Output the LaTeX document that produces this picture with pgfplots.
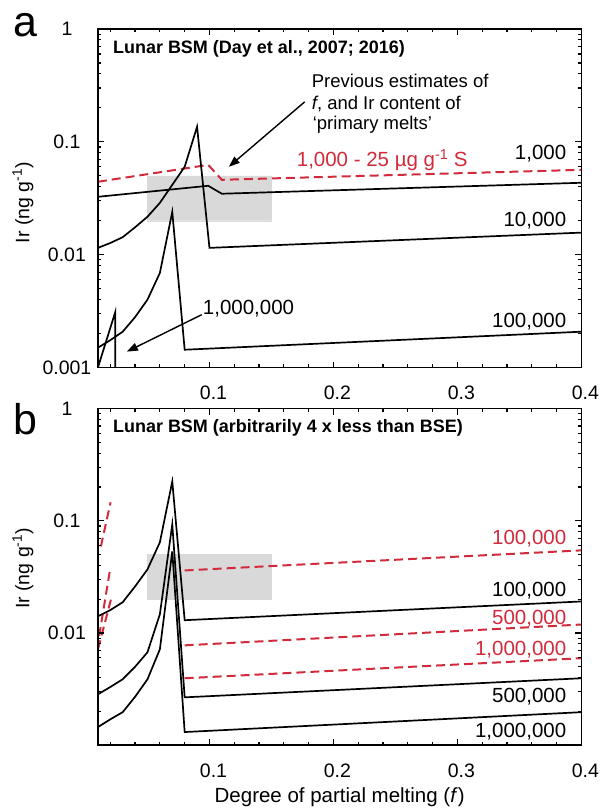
\documentclass[border=0pt]{standalone}
\usepackage{fontspec}
\setmainfont{Liberation Sans}
\usepackage{pgfplots}
\pgfplotsset{compat=1.18}
\usetikzlibrary{arrows.meta}
\definecolor{ired}{HTML}{D12B3B}
\definecolor{boxgray}{HTML}{D9D9D9}

\tikzset{
  blk/.style={black, line width=1.7bp},
  rdash/.style={ired, line width=2bp, dash pattern=on 9bp off 5bp},
  gbox/.style={draw=boxgray, fill=boxgray, line width=0.2bp},
}
\pgfplotsset{
  panel/.style={
    scale only axis, width=484bp,
    xmin=0.01, xmax=0.4, ymin=0.001, ymax=1,
    xtick={0.1,0.2,0.3,0.4}, xticklabels={0.1,0.2,0.3,0.4},
    minor xtick={0.02,0.04,0.06,0.08,0.12,0.14,0.16,0.18,0.22,0.24,0.26,0.28,0.32,0.34,0.36,0.38},
    ytick={0.001,0.01,0.1,1},
    minor ytick={0.002,0.003,0.004,0.005,0.006,0.007,0.008,0.009,
                 0.02,0.03,0.04,0.05,0.06,0.07,0.08,0.09,
                 0.2,0.3,0.4,0.5,0.6,0.7,0.8,0.9},
    axis line style={line width=1.5bp},
    tick style={line width=1.2bp},
    ticklabel style={font=\fontsize{19.5bp}{22bp}\selectfont},
    xticklabel style={yshift=-15bp, xshift=4bp},
    yticklabel style={anchor=center, xshift=-31bp},
  },
}

\begin{document}
\begin{tikzpicture}

% ---- panel a (south west corner at the origin)
\begin{axis}[ymode=log, panel, height=339bp, yticklabels={0.001,0.01,0.1,1}]
\addplot[gbox] coordinates {(0.05,0.02) (0.15,0.02) (0.15,0.05) (0.05,0.05) (0.05,0.02)};
% 1,000 - 25 ug/g S
\addplot[rdash] coordinates {(0.01,0.0443) (0.099,0.0625) (0.11,0.0461) (0.4,0.0565)};
% 1,000
\addplot[blk] coordinates {(0.01,0.0326) (0.099,0.0408) (0.11,0.0347) (0.4,0.0434)};
% 10,000
\addplot[blk] coordinates {(0.01,0.0115) (0.02,0.0127) (0.03,0.0143) (0.04,0.0175)
  (0.05,0.0217) (0.06,0.0288) (0.07,0.0416) (0.08,0.0601) (0.09,0.136) (0.1,0.0115) (0.4,0.0157)};
% 100,000
\addplot[blk] coordinates {(0.01,0.0015) (0.02,0.00175) (0.03,0.00208) (0.04,0.0028)
  (0.05,0.0040) (0.06,0.0069) (0.07,0.024) (0.08,0.00144) (0.4,0.00208)};
% 1,000,000
\addplot[blk] coordinates {(0.01,0.001) (0.024,0.0031) (0.024,0.0008)};
\end{axis}

% ---- panel b
\begin{axis}[ymode=log, panel, height=337bp, at={(0bp,-378bp)}, yticklabels={,0.01,0.1,1}]
\addplot[gbox] coordinates {(0.05,0.02) (0.15,0.02) (0.15,0.05) (0.05,0.05) (0.05,0.02)};
% red dashed, steep start
\addplot[rdash] coordinates {(0.0124,0.059) (0.0202,0.146)};
\addplot[rdash] coordinates {(0.011,0.0094) (0.0201,0.0385)};
\addplot[rdash] coordinates {(0.0101,0.0072) (0.0212,0.0212)};
% red dashed, after exhaustion
\addplot[rdash] coordinates {(0.08,0.0361) (0.4,0.0545)};
\addplot[rdash] coordinates {(0.08,0.00776) (0.4,0.0119)};
\addplot[rdash] coordinates {(0.08,0.00395) (0.4,0.00596)};
% 100,000
\addplot[blk] coordinates {(0.01,0.0141) (0.02,0.0160) (0.03,0.0188) (0.04,0.026)
  (0.05,0.0369) (0.06,0.0643) (0.07,0.224) (0.08,0.0130) (0.4,0.0191)};
% 500,000
\addplot[blk] coordinates {(0.01,0.00284) (0.02,0.0033) (0.03,0.00387) (0.04,0.0050)
  (0.05,0.00673) (0.06,0.0147) (0.07,0.0929) (0.08,0.00267) (0.4,0.00395)};
% 1,000,000
\addplot[blk] coordinates {(0.01,0.00145) (0.02,0.0017) (0.03,0.00197) (0.04,0.0027)
  (0.05,0.00387) (0.06,0.00716) (0.07,0.0534) (0.08,0.00131) (0.4,0.00197)};
\end{axis}

% ---- frames and inward ticks, in case the axis box does not show
\foreach \oy/\h in {0/339, -378/337} {
  \begin{scope}[yshift=\oy bp, line width=1.2bp]
    \draw[line width=1.6bp] (0,0) rectangle (484bp,\h bp);
    \foreach \v in {2,4,...,38} {
      \pgfmathsetmacro\X{(\v/100-0.01)/0.39*484}
      \draw (\X bp,0) -- ++(0,3.5bp);
      \draw (\X bp,\h bp) -- ++(0,-3.5bp);
    }
    \foreach \v in {10,20,30} {
      \pgfmathsetmacro\X{(\v/100-0.01)/0.39*484}
      \draw (\X bp,0) -- ++(0,6bp);
      \draw (\X bp,\h bp) -- ++(0,-6bp);
    }
    \foreach \d in {0,1,2} {
      \foreach \m in {2,...,9} {
        \pgfmathsetmacro\Y{(\d+ln(\m)/ln(10))*\h/3}
        \draw (0,\Y bp) -- ++(3.5bp,0);
        \draw (484bp,\Y bp) -- ++(-3.5bp,0);
      }
    }
    \foreach \d in {1,2} {
      \pgfmathsetmacro\Y{\d*\h/3}
      \draw (0,\Y bp) -- ++(6bp,0);
      \draw (484bp,\Y bp) -- ++(-6bp,0);
    }
  \end{scope}
}

% ---- labels
\node[anchor=base west, inner sep=0, font=\fontsize{43bp}{46bp}\selectfont] at (-85bp,331bp) {a};
\node[anchor=base west, inner sep=0, font=\fontsize{43bp}{46bp}\selectfont] at (-85bp,-67bp) {b};

\node[anchor=base west, inner sep=0, font=\fontsize{18bp}{20bp}\selectfont\bfseries] at (15bp,314bp)
  {Lunar BSM (Day et al., 2007; 2016)};
\node[anchor=base west, inner sep=0, font=\fontsize{18bp}{20bp}\selectfont\bfseries] at (15bp,-65bp)
  {Lunar BSM (arbitrarily 4 x less than BSE)};

\node[rotate=90, font=\fontsize{19.5bp}{22bp}\selectfont] at (-75bp,165bp) {Ir (ng g\textsuperscript{-1})};
\node[rotate=90, font=\fontsize{19.5bp}{22bp}\selectfont] at (-75bp,-201bp) {Ir (ng g\textsuperscript{-1})};
\node[font=\fontsize{20.5bp}{24bp}\selectfont] at (242bp,-430bp) {Degree of partial melting (\textit{f})};

\begin{scope}[every node/.style={inner sep=0, font=\fontsize{18.5bp}{21bp}\selectfont, anchor=base west}]
\node at (214bp,280bp) {Previous estimates of};
\node at (214bp,258bp) {\textit{f}, and Ir content of};
\node at (215bp,238bp) {‘primary melts’};
\end{scope}
\draw[line width=1.4bp, -{Triangle[length=11bp,width=8bp]}] (207bp,266bp) -- (131bp,201bp);
\draw[line width=1.4bp, -{Triangle[length=11bp,width=8bp]}] (104bp,53bp) -- (29bp,16bp);

\begin{scope}[every node/.style={inner sep=0, font=\fontsize{20.5bp}{24bp}\selectfont}]
\node[anchor=base east] at (469bp,208bp) {1,000};
\node[anchor=base east] at (469bp,141bp) {10,000};
\node[anchor=base east] at (469bp,40bp) {100,000};
\node[anchor=base west, text=ired] at (199bp,201bp) {1,000 - 25 µg g\textsuperscript{-1} S};
\node[anchor=base west] at (105bp,53bp) {1,000,000};

\node[anchor=base east, text=ired] at (469bp,-177bp) {100,000};
\node[anchor=base east] at (469bp,-229bp) {100,000};
\node[anchor=base east, text=ired] at (469bp,-257bp) {500,000};
\node[anchor=base east, text=ired] at (469bp,-288bp) {1,000,000};
\node[anchor=base east] at (469bp,-335bp) {500,000};
\node[anchor=base east] at (469bp,-370bp) {1,000,000};
\end{scope}

\path (-98bp,368bp) rectangle (507bp,-442bp);
\end{tikzpicture}
\end{document}
